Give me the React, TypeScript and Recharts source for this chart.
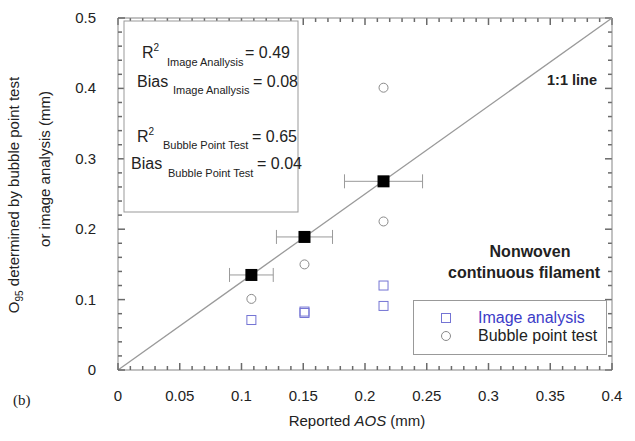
import React from 'react';
import { ScatterChart, Scatter, XAxis, YAxis, ErrorBar, Legend, ReferenceLine } from 'recharts';

const xMajorTicks = [0, 0.05, 0.1, 0.15, 0.2, 0.25, 0.3, 0.35, 0.4];
const xAllTicks = [
  0, 0.01, 0.02, 0.03, 0.04, 0.05, 0.06, 0.07, 0.08, 0.09, 0.1, 0.11, 0.12, 0.13, 0.14,
  0.15, 0.16, 0.17, 0.18, 0.19, 0.2, 0.21, 0.22, 0.23, 0.24, 0.25, 0.26, 0.27, 0.28, 0.29,
  0.3, 0.31, 0.32, 0.33, 0.34, 0.35, 0.36, 0.37, 0.38, 0.39, 0.4,
];
const xTickLabels = ['0', '0.05', '0.1', '0.15', '0.2', '0.25', '0.3', '0.35', '0.4'];
const yMajorTicks = [0, 0.1, 0.2, 0.3, 0.4, 0.5];
const yAllTicks = [
  0, 0.02, 0.04, 0.06, 0.08, 0.1, 0.12, 0.14, 0.16, 0.18, 0.2, 0.22, 0.24, 0.26, 0.28,
  0.3, 0.32, 0.34, 0.36, 0.38, 0.4, 0.42, 0.44, 0.46, 0.48, 0.5,
];
const yTickLabels = ['0', '0.1', '0.2', '0.3', '0.4', '0.5'];

const imageAnalysis = [
  { x: 0.108, y: 0.071 },
  { x: 0.151, y: 0.083 },
  { x: 0.151, y: 0.081 },
  { x: 0.215, y: 0.12 },
  { x: 0.215, y: 0.091 },
];
const bubblePoint = [
  { x: 0.108, y: 0.101 },
  { x: 0.151, y: 0.15 },
  { x: 0.215, y: 0.211 },
  { x: 0.215, y: 0.401 },
];
const meanAOS = [0.108, 0.151, 0.215];
const meanO95 = [0.135, 0.189, 0.268];
const aosRange = [0.0177, 0.0227, 0.0316];
const means = meanAOS.map((x, i) => ({ x, y: meanO95[i], err: aosRange[i] }));
const oneToOne = [
  { x: 0, y: 0 },
  { x: 0.4, y: 0.5 },
];

const legendItems = [
  { name: 'Image analysis', marker: 'square', color: '#3c3cc8' },
  { name: 'Bubble point test', marker: 'circle', color: '#222' },
];

const FONT = '"Liberation Sans", Arial, sans-serif';
const AX = '#858585';
const TICK = '#6a6a6a';
const X_DOMAIN: [number, number] = [0, 0.4];
const Y_DOMAIN: [number, number] = [0, 0.5];
// tick lengths in axis units (plot is 494 x 352 px)
const X_UNIT_PER_PX = 0.4 / 494;
const Y_UNIT_PER_PX = 0.5 / 352;
const MAJOR_PX = 7;
const MINOR_PX = 4;

const near = (a: number, list: number[]) => list.findIndex((m) => Math.abs(m - a) < 1e-9);

const makeTick = (side: 'left' | 'bottom', majors: number[], labels: string[]) => (p: any) => {
  const idx = near(p.payload?.value, majors);
  const len = idx >= 0 ? MAJOR_PX : MINOR_PX;
  const x = Number(p.x);
  const y = Number(p.y);
  const d = side === 'left' ? `M${x},${y}h${len}` : `M${x},${y}v${-len}`;
  return (
    <g>
      <path d={d} stroke={TICK} strokeWidth={1.5} fill="none" />
      {idx >= 0 && side === 'left' ? (
        <text x={x - 22} y={y + 5} textAnchor="end" fontSize={15} fill="#222" fontFamily={FONT}>
          {labels[idx]}
        </text>
      ) : null}
      {idx >= 0 && side === 'bottom' ? (
        <text x={x} y={y + 31} textAnchor="middle" fontSize={15} fill="#222" fontFamily={FONT}>
          {labels[idx]}
        </text>
      ) : null}
    </g>
  );
};

const ImgSquare = (p: any) => (
  <rect x={p.cx - 4.5} y={p.cy - 4.5} width={9} height={9} fill="none" stroke="#7474d4" strokeWidth={1} />
);
const BubbleCircle = (p: any) => (
  <circle cx={p.cx} cy={p.cy} r={4.5} fill="none" stroke="#8a8a8a" strokeWidth={1} />
);
const MeanSquare = (p: any) => (
  <rect x={p.cx - 6} y={p.cy - 6} width={12} height={12} fill="#000" />
);
const NoShape = () => <g />;

const LegendBox = () => (
  <div style={{ border: '1px solid #999', background: '#fff', width: 194, height: 55, boxSizing: 'border-box', fontFamily: FONT, fontSize: 16, paddingTop: 8 }}>
    {legendItems.map((it) => (
      <div key={it.name} style={{ display: 'flex', alignItems: 'center', height: 18 }}>
        <svg width={64} height={18}>
          {it.marker === 'square' ? (
            <rect x={27.5} y={4.5} width={9} height={9} fill="none" stroke="#7474d4" />
          ) : (
            <circle cx={32} cy={9} r={4.5} fill="none" stroke="#8a8a8a" />
          )}
        </svg>
        <span style={{ color: it.color, lineHeight: '18px' }}>{it.name}</span>
      </div>
    ))}
  </div>
);

export default function App() {
  const tickLines: React.ReactNode[] = [];
  xAllTicks.forEach((t, i) => {
    const len = (near(t, xMajorTicks) >= 0 ? MAJOR_PX : MINOR_PX) * Y_UNIT_PER_PX;
    tickLines.push(
      <ReferenceLine key={`xt${i}`} xAxisId="b" yAxisId="l" ifOverflow="visible" stroke={TICK} strokeWidth={1.5}
        segment={[{ x: t, y: Y_DOMAIN[1] }, { x: t, y: Y_DOMAIN[1] - len }]} />
    );
  });
  yAllTicks.forEach((t, i) => {
    const len = (near(t, yMajorTicks) >= 0 ? MAJOR_PX : MINOR_PX) * X_UNIT_PER_PX;
    tickLines.push(
      <ReferenceLine key={`yr${i}`} xAxisId="b" yAxisId="l" ifOverflow="visible" stroke={TICK} strokeWidth={1.5}
        segment={[{ x: X_DOMAIN[1], y: t }, { x: X_DOMAIN[1] - len, y: t }]} />
    );
  });

  return (
    <div style={{ position: 'absolute', left: 0, top: 0, width: 635, height: 441, background: '#fff' }}>
      <ScatterChart width={635} height={441} margin={{ top: 17, right: 22, bottom: 21, left: 40 }}>
        <XAxis xAxisId="t" type="number" dataKey="x" domain={X_DOMAIN} ticks={xMajorTicks}
          orientation="top" height={1} tick={false} tickLine={false} axisLine={{ stroke: AX }} />
        <YAxis yAxisId="r" type="number" dataKey="y" domain={Y_DOMAIN} ticks={yMajorTicks}
          orientation="right" width={1} tick={false} tickLine={false} axisLine={{ stroke: AX }} />
        <XAxis xAxisId="b" type="number" dataKey="x" domain={X_DOMAIN} ticks={xAllTicks} interval={0}
          orientation="bottom" height={50} tickSize={0} tickMargin={0} tickLine={false}
          tick={makeTick('bottom', xMajorTicks, xTickLabels)} axisLine={{ stroke: AX }} />
        <YAxis yAxisId="l" type="number" dataKey="y" domain={Y_DOMAIN} ticks={yAllTicks} interval={0}
          orientation="left" width={78} tickSize={0} tickMargin={0} tickLine={false}
          tick={makeTick('left', yMajorTicks, yTickLabels)} axisLine={{ stroke: AX }} />

        {tickLines}

        <Scatter xAxisId="b" yAxisId="l" name="Image analysis" data={imageAnalysis} shape={ImgSquare} isAnimationActive={false} legendType="none" />
        <Scatter xAxisId="b" yAxisId="l" name="Bubble point test" data={bubblePoint} shape={BubbleCircle} isAnimationActive={false} legendType="none" />
        <Scatter xAxisId="b" yAxisId="l" name="1:1 line" data={oneToOne} shape={NoShape} line={{ stroke: '#9a9a9a', strokeWidth: 1.3 }} isAnimationActive={false} legendType="none" />
        <Scatter xAxisId="b" yAxisId="l" name="Mean" data={means} shape={MeanSquare} isAnimationActive={false} legendType="none">
          <ErrorBar dataKey="err" direction="x" width={7} stroke="#9a9a9a" strokeWidth={1} />
        </Scatter>
        <Legend layout="vertical" align="center" verticalAlign="middle"
          wrapperStyle={{ position: 'absolute', left: 413, top: 300, width: 194, height: 55 }}
          content={() => <LegendBox />} />
      </ScatterChart>

      <svg width={635} height={441} style={{ position: 'absolute', left: 0, top: 0, pointerEvents: 'none' }}>
        <rect x={124} y={21} width={174} height={191} fill="#fff" stroke="#999" strokeWidth={1} />
        <g fill="#222" fontFamily={FONT}>
          <text x={142} y={58} fontSize={16}>R</text>
          <text x={153.5} y={51} fontSize={10}>2</text>
          <text x={167} y={66} fontSize={11}>Image Anallysis</text>
          <text x={245} y={58} fontSize={16}>= 0.49</text>
          <text x={137} y={87} fontSize={16}>Bias</text>
          <text x={173} y={94} fontSize={11}>Image Anallysis</text>
          <text x={253} y={87} fontSize={16}>= 0.08</text>
          <text x={137} y={142} fontSize={16}>R</text>
          <text x={148.5} y={135} fontSize={10}>2</text>
          <text x={163} y={149} fontSize={11}>Bubble Point Test</text>
          <text x={252} y={142} fontSize={16}>= 0.65</text>
          <text x={131} y={169} fontSize={16}>Bias</text>
          <text x={168} y={177} fontSize={11}>Bubble Point Test</text>
          <text x={257} y={169} fontSize={16}>= 0.04</text>
          <text x={547} y={85} fontSize={14.5} fontWeight="bold">1:1 line</text>
          <text x={530} y={257} fontSize={16} fontWeight="bold" textAnchor="middle">Nonwoven</text>
          <text x={524} y={278} fontSize={16} fontWeight="bold" textAnchor="middle">continuous filament</text>
          <text transform="translate(19,195) rotate(-90)" fontSize={15} textAnchor="middle">
            <tspan>O</tspan>
            <tspan fontSize={10} dy={4}>95</tspan>
            <tspan dy={-4}> determined by bubble point test</tspan>
          </text>
          <text transform="translate(50,169) rotate(-90)" fontSize={15} textAnchor="middle">or image analysis (mm)</text>
          <text x={357} y={426} fontSize={15} textAnchor="middle">
            Reported <tspan fontStyle="italic">AOS</tspan> (mm)
          </text>
          <text x={13} y={405} fontSize={15} fontFamily='"Liberation Serif", "Times New Roman", serif'>(b)</text>
        </g>
      </svg>
    </div>
  );
}
